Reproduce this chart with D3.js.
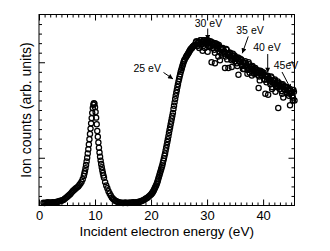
<!DOCTYPE html>
<html>
<head>
<meta charset="utf-8">
<script src="https://cdn.jsdelivr.net/npm/d3@7"></script>
<style>
body{margin:0;background:#fff}
text{font-family:"Liberation Sans",Arial,Helvetica,sans-serif}
</style>
</head>
<body>
<script>
// incident energy (eV) of each point of the scan
var energy=[0.8,1,1.2,1.4,1.6,1.8,2,2.2,2.4,2.6,2.8,3,3.2,3.4,3.6,3.8,4,4.2,4.4,4.6,4.8,5,5.2,5.4,5.6,5.8,6,6.2,6.4,6.6,6.8,7,7.2,7.4,7.6,7.8,
8,8.1,8.2,8.3,8.4,8.5,8.6,8.7,8.8,8.9,9,9.1,9.2,9.3,9.4,9.5,9.6,9.7,9.8,9.9,10,10.1,10.2,10.3,10.4,10.5,10.6,10.7,10.8,10.9,11,11.1,11.2,11.3,11.4,11.5,11.6,
11.8,12,12.2,12.4,12.6,12.8,13,13.2,13.4,13.6,13.8,14,14.2,14.4,14.6,14.8,15,15.2,15.4,15.6,15.8,16,16.2,16.4,16.6,16.8,17,17.2,17.4,17.6,17.8,18,18.2,18.4,18.6,18.8,19,19.2,19.4,19.6,19.8,
20,20.1,20.2,20.3,20.4,20.5,20.6,20.7,20.8,20.9,21,21.1,21.2,21.3,21.4,21.5,21.6,21.7,21.8,21.9,22,22.1,22.2,22.3,22.4,22.5,22.6,22.7,22.8,22.9,
23,23.1,23.2,23.3,23.4,23.5,23.6,23.7,23.8,23.9,24,24.1,24.2,24.3,24.4,24.5,24.6,24.7,24.8,24.9,25,25.1,25.2,25.3,25.4,25.5,25.6,25.7,25.8,25.9,26,
26.2,26.4,26.6,26.8,27,27.2,27.4,27.6,27.8,28,28.2,28.4,28.6,28.8,29,29.2,29.4,29.6,29.8,30,30.2,30.4,30.6,30.8,31,31.2,31.4,31.6,31.8,
32,32.2,32.4,32.6,32.8,33,33.2,33.4,33.6,33.8,34,34.2,34.4,34.6,34.8,35,35.2,35.4,35.6,35.8,36,36.2,36.4,36.6,36.8,37,37.2,37.4,37.6,37.8,
38,38.2,38.4,38.6,38.8,39,39.2,39.4,39.6,39.8,40,40.2,40.4,40.6,40.8,41,41.2,41.4,41.6,41.8,42,42.2,42.4,42.6,42.8,43,43.2,43.4,43.6,43.8,
44,44.2,44.4,44.6,44.8,45,45.2,45.4,45.6]
// ion counts (arb. units)
var counts=[0.3,0.25,0.3,0.3,0.35,0.3,0.3,0.3,0.35,0.3,0.35,0.35,0.4,0.4,0.45,0.5,0.5,0.55,0.6,0.7,0.8,0.9,1.0,1.1,1.2,1.35,1.5,1.6,1.7,1.8,1.9,2.0,2.15,2.3,2.5,2.75,
3.1,3.35,3.6,3.9,4.25,4.6,5.0,5.45,5.9,6.4,6.95,7.5,8.05,8.6,9.15,9.7,10.2,10.55,10.7,10.65,10.3,9.8,9.2,8.5,7.8,7.2,6.6,6.05,5.55,5.1,4.7,4.35,4.0,3.7,3.4,3.15,2.9,
2.45,2.1,1.8,1.5,1.25,1.05,0.85,0.7,0.6,0.5,0.45,0.4,0.35,0.3,0.3,0.3,0.25,0.3,0.3,0.3,0.25,0.3,0.3,0.3,0.3,0.35,0.3,0.3,0.35,0.35,0.4,0.4,0.45,0.5,0.55,0.6,0.7,0.75,0.85,0.95,1.05,
1.15,1.22,1.3,1.4,1.5,1.6,1.72,1.85,1.98,2.1,2.25,2.42,2.6,2.8,3.0,3.2,3.4,3.6,3.8,4.0,4.2,4.45,4.7,4.95,5.2,5.45,5.75,6.05,6.35,6.65,
6.95,7.25,7.6,7.9,8.2,8.5,8.8,9.1,9.4,9.7,10.1,10.45,10.8,11.15,11.5,11.8,12.1,12.4,12.7,13.0,13.25,13.5,13.75,14.0,14.2,14.4,14.6,14.8,15.0,15.15,15.3,
15.5,15.7,15.9,16.1,16.3,16.45,16.6,16.7,16.8,17.1,16.7,17.1,16.5,17.3,17.1,16.9,17.3,16.5,17.2,17.3,17.0,16.6,17.2,16.9,16.5,17.0,16.0,16.7,16.9,
16.7,16.1,16.5,15.8,16.5,16.1,15.9,16.4,15.3,15.9,16.0,15.6,15.2,15.9,15.5,15.1,15.5,14.6,15.3,15.4,15.3,14.7,15.0,14.3,15.1,14.7,14.4,15.0,13.9,14.5,
14.5,14.2,13.8,14.4,14.0,13.7,14.1,13.1,13.9,14.0,13.8,13.2,13.6,12.9,13.6,13.3,13.0,13.5,12.4,13.1,13.1,12.7,12.4,13.0,12.6,12.2,12.7,11.7,12.4,12.5,
12.4,11.8,12.1,11.5,12.2,11.8,11.5,12.1,11.0]
// in-between points of the upper band (26-46 eV)
var bandEnergy=[26.3,26.5,26.7,26.9,27.1,27.3,27.5,27.7,27.9,28.1,28.3,28.5,28.7,28.9,29.1,29.3,29.5,29.7,29.9,30.1,30.3,30.5,30.7,30.9,31.1,31.3,31.5,31.7,31.9,
32.1,32.3,32.5,32.7,32.9,33.1,33.3,33.5,33.7,33.9,34.1,34.3,34.5,34.7,34.9,35.1,35.3,35.5,35.7,35.9,36.1,36.3,36.5,36.7,36.9,37.1,37.3,37.5,37.7,37.9,
38.1,38.3,38.5,38.7,38.9,39.1,39.3,39.5,39.7,39.9,40.1,40.3,40.5,40.7,40.9,41.1,41.3,41.5,41.7,41.9,42.1,42.3,42.5,42.7,42.9,43.1,43.3,43.5,43.7,43.9,
44.1,44.3,44.5,44.7,44.9,45.1,45.3,45.5]
var bandCounts=[15.6,15.8,16.0,16.2,16.4,16.5,16.65,16.75,16.8,17.2,16.7,17.1,16.9,17.3,17.1,16.7,17.3,17.0,17.0,17.3,16.7,17.1,16.7,17.1,16.8,16.3,17.0,16.5,16.4,
16.8,16.1,16.4,16.0,16.4,16.1,15.6,16.3,15.8,15.7,16.0,15.4,15.7,15.3,15.7,15.4,14.9,15.5,15.1,15.0,15.3,14.6,15.0,14.6,14.9,14.7,14.2,14.8,14.3,14.3,
14.6,13.9,14.3,13.9,14.2,13.9,13.5,14.1,13.6,13.6,13.9,13.2,13.5,13.2,13.5,13.2,12.7,13.4,12.9,12.8,13.2,12.5,12.8,12.4,12.8,12.5,12.0,12.7,12.2,12.1,
12.4,11.8,12.1,11.7,12.0,11.8,11.3,11.9]
// stray low points in the upper band
var strayEnergy=[29.2,30.1,30.8,31.4,32.0,32.3,33.2,33.8,34.4,35.6,36.4,37.2,38.0,39.2,40.4,40.9,41.6,42.2,42.7,43.6,44.8,45.3]
var strayCounts=[16.2,16.1,15.0,14.9,15.6,15.2,14.4,14.4,14.5,13.7,14.3,13.8,13.6,12.3,11.7,11.6,12.2,11.9,10.2,11.3,10.5,11.0]

var xMajor=[0,10,20,30,40]
var yMajor=[5,15]

// labels: [text, text x, text y, arrow from x, y, arrow to x, y, anchor] in data units
var notes=[
  ["25 eV",21.77,13.98,22.22,13.93,23.92,13.25,"end"],
  ["30 eV",30.25,18.74,30.11,18.53,30.11,17.33,"middle"],
  ["35 eV",37.66,17.91,37.35,17.70,36.28,15.94,"middle"],
  ["40 eV",40.69,16.13,40.82,15.86,40.82,13.91,"middle"],
  ["45eV",44.08,14.29,43.37,13.98,44.98,12.17,"middle"]
]

var W=330,H=251
var svg=d3.select("body").append("svg").attr("width",W).attr("height",H)
svg.append("rect").attr("width",W).attr("height",H).attr("fill","#fff")

var x=d3.scaleLinear().domain([0,45.6]).range([39,294.5])
var y=d3.scaleLinear().domain([0,20]).range([205.5,14.5])

svg.append("defs").append("marker")
  .attr("id","head").attr("viewBox","0 0 10 10")
  .attr("refX",10).attr("refY",5)
  .attr("markerWidth",6).attr("markerHeight",5)
  .attr("markerUnits","userSpaceOnUse")
  .attr("orient","auto")
  .append("path").attr("d","M0,0L10,5L0,10Z").attr("fill","#000")

// points
var pts=energy.map(function(e,i){return [e,counts[i]]})
  .concat(bandEnergy.map(function(e,i){return [e,bandCounts[i]]}))
  .concat(strayEnergy.map(function(e,i){return [e,strayCounts[i]]}))
svg.append("g").selectAll("circle").data(pts).enter().append("circle")
  .attr("cx",function(d){return x(d[0])})
  .attr("cy",function(d){return y(d[1])})
  .attr("r",2.6)
  .attr("fill","none")
  .attr("stroke","#000")
  .attr("stroke-width",1.25)

// axes with inward ticks on all four sides
var minorX=d3.range(1,46).filter(function(v){return v%10!=0})
var minorY=d3.range(1,20).filter(function(v){return v!=5&&v!=15})
var plotW=294.5-39, plotH=205.5-14.5

function styleAxis(g){
  g.select(".domain").remove()
  g.selectAll("line").attr("stroke","#000").attr("stroke-width",1)
}
svg.append("g").attr("transform","translate(0,205.5)")
  .call(d3.axisBottom(x).tickValues(minorX).tickSize(-3).tickFormat("")).call(styleAxis)
svg.append("g").attr("transform","translate(0,205.5)")
  .call(d3.axisBottom(x).tickValues(xMajor).tickSize(-6).tickPadding(5.5).tickFormat(d3.format("d")))
  .call(styleAxis)
  .selectAll("text").attr("font-size","13px").attr("fill","#000")
  .style("font-family","'Liberation Sans',Arial,Helvetica,sans-serif")
svg.append("g").attr("transform","translate(0,14.5)")
  .call(d3.axisTop(x).tickValues(minorX).tickSize(-3).tickFormat("")).call(styleAxis)
svg.append("g").attr("transform","translate(0,14.5)")
  .call(d3.axisTop(x).tickValues(xMajor).tickSize(-6).tickFormat("")).call(styleAxis)
svg.append("g").attr("transform","translate(39,0)")
  .call(d3.axisLeft(y).tickValues(minorY).tickSize(-3).tickFormat("")).call(styleAxis)
svg.append("g").attr("transform","translate(39,0)")
  .call(d3.axisLeft(y).tickValues(yMajor).tickSize(-6).tickFormat("")).call(styleAxis)
svg.append("g").attr("transform","translate(294.5,0)")
  .call(d3.axisRight(y).tickValues(minorY).tickSize(-3).tickFormat("")).call(styleAxis)
svg.append("g").attr("transform","translate(294.5,0)")
  .call(d3.axisRight(y).tickValues(yMajor).tickSize(-6).tickFormat("")).call(styleAxis)

svg.append("rect").attr("x",39).attr("y",14.5).attr("width",plotW).attr("height",plotH)
  .attr("fill","none").attr("stroke","#000").attr("stroke-width",1)

// annotations
notes.forEach(function(n){
  svg.append("line")
    .attr("x1",x(n[3])).attr("y1",y(n[4]))
    .attr("x2",x(n[5])).attr("y2",y(n[6]))
    .attr("stroke","#000").attr("stroke-width",1)
    .attr("marker-end","url(#head)")
  svg.append("text").attr("x",x(n[1])).attr("y",y(n[2]))
    .attr("text-anchor",n[7]).attr("font-size","10.5px").attr("fill","#000")
    .text(n[0])
})

// axis titles
svg.append("text").attr("x",166.75).attr("y",235.5)
  .attr("text-anchor","middle").attr("font-size","13.6px").text("Incident electron energy (eV)")
svg.append("text").attr("transform","translate(31,110) rotate(-90)")
  .attr("text-anchor","middle").attr("font-size","14px").text("Ion counts (arb. units)")
</script>
</body>
</html>
